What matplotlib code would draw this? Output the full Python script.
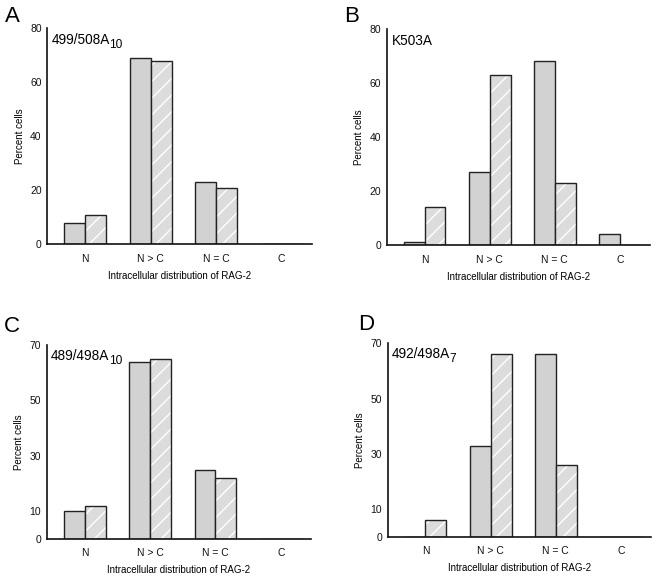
import matplotlib
matplotlib.use("Agg")
import matplotlib.pyplot as plt
import numpy as np

plt.rcParams['font.family'] = ['Liberation Sans', 'DejaVu Sans']
plt.rcParams['hatch.linewidth'] = 1.0

categories = ["N", "N > C", "N = C", "C"]

panel_letters = ["A", "B", "C", "D"]
panel_main = ["499/508A", "K503A", "489/498A", "492/498A"]
panel_sub = ["10", "", "10", "7"]

series1_A = [8, 69, 23, 0]
series2_A = [11, 68, 21, 0]
series1_B = [1, 27, 68, 4]
series2_B = [14, 63, 23, 0]
series1_C = [10, 64, 25, 0]
series2_C = [12, 65, 22, 0]
series1_D = [0, 33, 66, 0]
series2_D = [6, 66, 26, 0]

yticks_AB = [0, 20, 40, 60, 80]
yticks_CD = [0, 10, 30, 50, 70]

xlabel = "Intracellular distribution of RAG-2"
ylabel = "Percent cells"

panels = [
    (series1_A, series2_A, yticks_AB, [0.0723, 0.5781, 0.4043, 0.3731], (0.008, 0.990)),
    (series1_B, series2_B, yticks_AB, [0.5917, 0.5769, 0.4017, 0.3731], (0.526, 0.990)),
    (series1_C, series2_C, yticks_CD, [0.0714, 0.0696, 0.4041, 0.3345], (0.006, 0.455)),
    (series1_D, series2_D, yticks_CD, [0.5928, 0.0731, 0.4026, 0.3340], (0.548, 0.458)),
]

fig = plt.figure(figsize=(6.54, 5.79), dpi=100)

w = 0.32
x = np.arange(len(categories))
mains = []
for i, (s1, s2, yt, rect, lpos) in enumerate(panels):
    ax = fig.add_axes(rect)
    ax.bar(x - w / 2, s1, width=w, color='#d2d2d2', edgecolor='#222222', linewidth=1.0)
    ax.bar(x + w / 2, s2, width=w, color='#dcdcdc', edgecolor='white', hatch='//', linewidth=0)
    ax.bar(x + w / 2, s2, width=w, color='none', edgecolor='#222222', linewidth=1.0)
    ax.set_xlim(-0.58, 3.46)
    ax.set_ylim(0, yt[-1])
    ax.set_yticks(yt)
    ax.set_xticks(x)
    ax.set_xticklabels(categories)
    ax.tick_params(axis='both', length=0, labelsize=7.5, colors='#111111')
    ax.tick_params(axis='y', pad=4)
    ax.tick_params(axis='x', pad=7)
    for s in ['top', 'right']:
        ax.spines[s].set_visible(False)
    for s in ['left', 'bottom']:
        ax.spines[s].set_linewidth(1.2)
        ax.spines[s].set_color('#111111')
    ax.set_xlabel(xlabel, fontsize=7, labelpad=5)
    ax.set_ylabel(ylabel, fontsize=7, labelpad=4)
    t = ax.text(0.017, 0.925, panel_main[i], transform=ax.transAxes, fontsize=9.8,
                ha='left', va='baseline')
    mains.append((ax, t))
    fig.text(lpos[0], lpos[1], panel_letters[i], fontsize=16, ha='left', va='top')

fig.canvas.draw()
renderer = fig.canvas.get_renderer()
for (ax, t), sub in zip(mains, panel_sub):
    if not sub:
        continue
    bb = t.get_window_extent(renderer)
    base = ax.transAxes.transform((0.017, 0.925))
    fig.text((bb.x1 - 1) / fig.bbox.width, (base[1] - 4) / fig.bbox.height, sub,
             fontsize=8.6, ha='left', va='baseline')

fig.savefig("out.png", dpi=100)
